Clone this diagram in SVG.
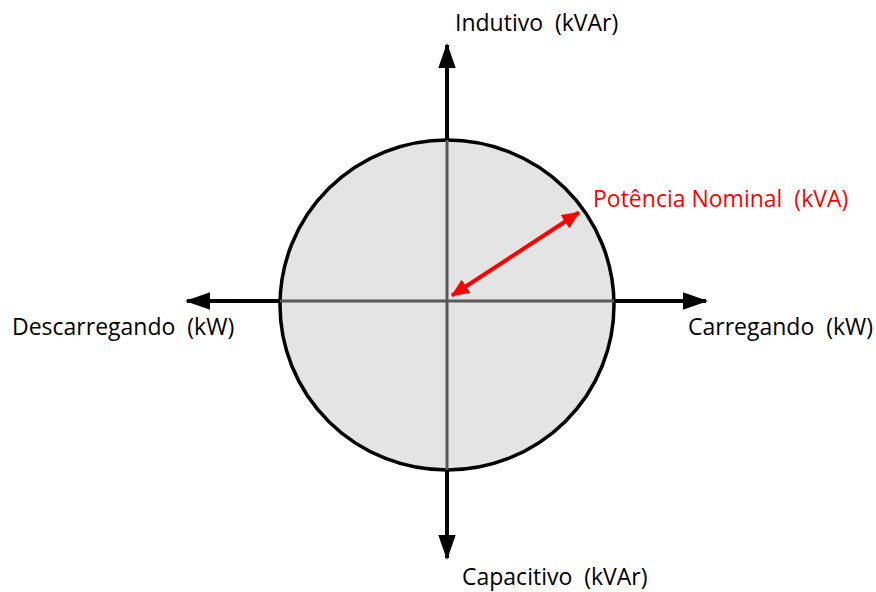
<svg xmlns="http://www.w3.org/2000/svg" width="876" height="592" viewBox="0 0 876 592">
  <style>
    text { font-family: "Open Sans", "Liberation Sans", sans-serif; font-size: 23px; fill: #000; white-space: pre; }
    .red { fill: #ff0000; }
    .axis-out { stroke: #000; stroke-width: 4; fill: none; }
    .axis-in { stroke: #595959; stroke-width: 3; fill: none; }
  </style>
  <defs>
    <marker id="blackHead" markerWidth="6.3" markerHeight="4.4" refX="5.8" refY="2.2" orient="auto" markerUnits="strokeWidth" viewBox="0 0 6.3 4.4">
      <path d="M0,0 L6.3,2.2 L0,4.4 Z" fill="#000"/>
    </marker>
    <marker id="redHead" markerWidth="4.5" markerHeight="4" refX="4.2" refY="2" orient="auto-start-reverse" markerUnits="strokeWidth" viewBox="0 0 4.5 4">
      <path d="M0,0 L4.5,2 L0,4 Z" fill="#ff0000"/>
    </marker>
  </defs>

  <!-- capability circle -->
  <g id="circle">
    <ellipse cx="447" cy="305" rx="167" ry="165" fill="#e4e4e4" stroke="#000" stroke-width="3.5"/>
  </g>

  <!-- axes and the rated-power radius -->
  <g id="connectors">
    <line class="axis-in" x1="447" y1="140" x2="447" y2="470"/>
    <line class="axis-in" x1="280" y1="301" x2="614" y2="301"/>
    <line class="axis-out" x1="447" y1="140" x2="447" y2="45" marker-end="url(#blackHead)"/>
    <line class="axis-out" x1="447" y1="470" x2="447" y2="558" marker-end="url(#blackHead)"/>
    <line class="axis-out" x1="280" y1="301" x2="187" y2="301" marker-end="url(#blackHead)"/>
    <line class="axis-out" x1="614" y1="301" x2="706" y2="301" marker-end="url(#blackHead)"/>
    <line x1="452" y1="295.5" x2="579" y2="212.5" stroke="#ff0000" stroke-width="4" marker-start="url(#redHead)" marker-end="url(#redHead)"/>
  </g>

  <g id="label-indutivo"><text x="455" y="31">Indutivo  (kVAr)</text></g>
  <g id="label-capacitivo"><text x="462" y="585">Capacitivo  (kVAr)</text></g>
  <g id="label-descarregando"><text x="12" y="335">Descarregando  (kW)</text></g>
  <g id="label-carregando"><text x="688" y="335">Carregando  (kW)</text></g>
  <g id="label-potencia"><text class="red" x="593" y="207">Potência Nominal  (kVA)</text></g>
</svg>
